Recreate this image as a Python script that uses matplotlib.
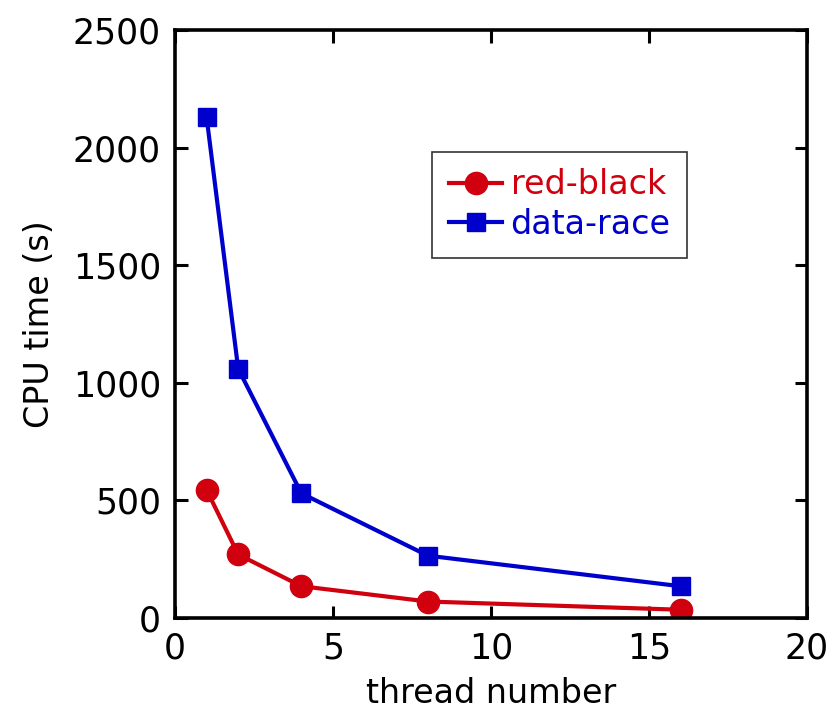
import matplotlib
matplotlib.use('Agg')
from matplotlib import pyplot as plt

threads = [1, 2, 4, 8, 16]
red_black = [545, 270, 135, 70, 35]
data_race = [2130, 1060, 530, 265, 135]

red = '#d0000f'
blue = '#0000cc'

plt.rcParams['font.family'] = ['DejaVu Sans']

fig = plt.figure(figsize=(8.36, 7.2), dpi=100)
ax = fig.add_axes([0.2093, 0.1417, 0.756, 0.8166])

ax.plot(threads, red_black, color=red, lw=3, marker='o', ms=16, label='red-black')
ax.plot(threads, data_race, color=blue, lw=3, marker='s', ms=12.5, label='data-race')

ax.set(xlim=[0, 20], ylim=[0, 2500])
ax.set_xticks([0, 5, 10, 15, 20])
ax.set_yticks([0, 500, 1000, 1500, 2000, 2500])
ax.tick_params(direction='in', length=9, width=2.2, labelsize=25, pad=10,
               top=True, right=True)
for sp in ax.spines.values():
    sp.set_linewidth(2.6)
ax.set_xlabel('thread number', fontsize=24, labelpad=8)
ax.set_ylabel('CPU time (s)', fontsize=24, labelpad=12)

leg = ax.legend(loc='upper left', bbox_to_anchor=(0.407, 0.793), fontsize=24,
                frameon=True, fancybox=False, edgecolor='black',
                handlelength=1.6, handletextpad=0.25, borderpad=0.5,
                labelspacing=0.2, borderaxespad=0)
leg.get_frame().set_linewidth(1.2)
for txt, c in zip(leg.get_texts(), [red, blue]):
    txt.set_color(c)

fig.savefig('out.png', dpi=100)
